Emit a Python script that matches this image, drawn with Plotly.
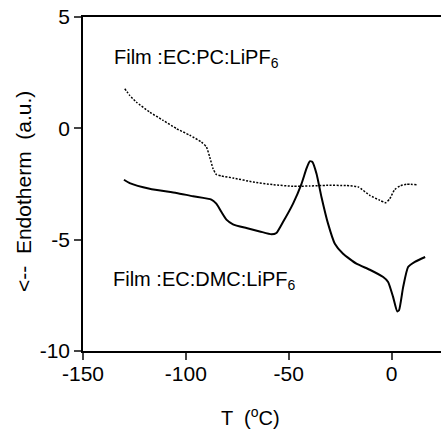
import plotly.graph_objects as go

# EC:DMC:LiPF6 film (solid)
dmc_T = [-130.1, -127.3, -117.6, -104.6, -96.5, -87.6, -85.2, -82.7, -80.3, -77.1, -70.6, -64.1,
         -58.4, -56.0, -52.8, -47.9, -43.8, -41.4, -39.8, -38.5, -36.5, -34.1, -30.9, -27.6,
         -23.6, -17.1, -10.6, -4.1, -1.7, 0.7, 2.7, 3.6, 5.6, 8.0, 11.3, 16.3]
dmc_E = [-2.31, -2.46, -2.71, -2.90, -3.05, -3.20, -3.38, -3.76, -4.10, -4.31, -4.48, -4.63,
         -4.76, -4.70, -4.21, -3.38, -2.49, -1.81, -1.48, -1.51, -2.04, -3.08, -4.28, -5.18,
         -5.63, -6.08, -6.35, -6.68, -6.90, -7.57, -8.22, -8.17, -7.13, -6.23, -6.00, -5.78]

# EC:PC:LiPF6 film (dotted)
pc_T = [-129.7, -127.3, -124.1, -117.6, -111.1, -104.6, -98.1, -92.5, -90.0, -88.4, -86.8, -85.2,
        -82.7, -77.1, -67.3, -57.6, -47.9, -39.8, -31.7, -22.0, -16.3, -10.6, -5.8, -2.8,
        -0.9, 1.5, 4.0, 7.2, 12.1]
pc_E = [1.78, 1.48, 1.18, 0.73, 0.36, -0.01, -0.31, -0.61, -0.84, -1.29, -1.81, -2.07,
        -2.14, -2.23, -2.41, -2.53, -2.60, -2.59, -2.56, -2.57, -2.63, -3.01, -3.23, -3.34,
        -3.16, -2.75, -2.59, -2.51, -2.53]

x_ticks = [-150, -100, -50, 0]
x_tick_labels = ["-150", "-100", "-50", "0"]
y_ticks = [-10, -5, 0, 5]
y_tick_labels = ["-10", "-5", "0", "5"]

FONT = "Liberation Sans, Arial, sans-serif"

fig = go.Figure()
fig.add_trace(go.Scatter(x=pc_T, y=pc_E, mode="lines",
                         line=dict(color="black", width=1.5, dash="2px,1.5px", shape="spline", smoothing=0.5),
                         showlegend=False, hoverinfo="skip"))
fig.add_trace(go.Scatter(x=dmc_T, y=dmc_E, mode="lines",
                         line=dict(color="black", width=2, shape="spline", smoothing=0.5),
                         showlegend=False, hoverinfo="skip"))

fig.update_layout(
    width=441, height=431,
    margin=dict(l=83, r=0, t=17, b=80),
    paper_bgcolor="white", plot_bgcolor="white",
    font=dict(family=FONT, size=20, color="black"),
    xaxis=dict(range=[-150, 24], tickvals=x_ticks, ticktext=x_tick_labels, ticks="outside",
               ticklen=7, tickwidth=1.5, ticklabelstandoff=-4,
               showline=True, linecolor="black", linewidth=1.5, mirror=True,
               showgrid=False, zeroline=False, tickfont=dict(size=21)),
    yaxis=dict(range=[-10, 5], tickvals=y_ticks, ticktext=y_tick_labels, ticks="outside",
               ticklen=7, tickwidth=1.5,
               showline=True, linecolor="black", linewidth=1.5, mirror=False,
               showgrid=False, zeroline=False, tickfont=dict(size=21)),
    annotations=[
        dict(text="Film :EC:PC:LiPF<sub>6</sub>", x=112, y=58, xref="paper", yref="paper",
             showarrow=False, xanchor="left", yanchor="middle", font=dict(size=20)),
        dict(text="Film :EC:DMC:LiPF<sub>6</sub>", x=111, y=280, xref="paper", yref="paper",
             showarrow=False, xanchor="left", yanchor="middle", font=dict(size=20)),
        dict(text="T  (<sup>o</sup>C)", x=250, y=417, xref="paper", yref="paper",
             showarrow=False, xanchor="center", yanchor="middle", font=dict(size=20)),
        dict(text="<--  Endotherm  (a.u.)", x=23, y=192, xref="paper", yref="paper",
             showarrow=False, xanchor="center", yanchor="middle", textangle=-90, font=dict(size=21)),
    ],
)

# convert pixel placements of annotations into paper coordinates
pw = 441 - 83 - 0
ph = 431 - 17 - 80
for a in fig.layout.annotations:
    px, py = a.x, a.y
    a.x = (px - 83) / pw
    a.y = 1 - (py - 17) / ph

fig.write_html("out.html")
